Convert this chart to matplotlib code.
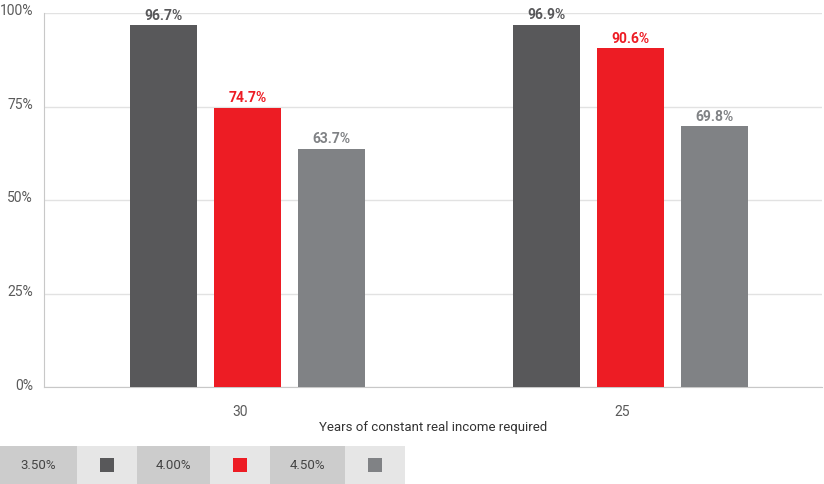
import matplotlib
matplotlib.use("Agg")
import matplotlib.pyplot as plt
from matplotlib.patches import Rectangle
from matplotlib.transforms import ScaledTranslation
import numpy as np

plt.rcParams['font.family'] = ['Roboto', 'DejaVu Sans']

categories = ["30", "25"]
series_names = ["3.50%", "4.00%", "4.50%"]
values = {
    "3.50%": [96.7, 96.9],
    "4.00%": [74.7, 90.6],
    "4.50%": [63.7, 69.8],
}
colors = ["#58585a", "#ed1c24", "#808285"]
yticks = [0, 25, 50, 75, 100]
ytick_labels = ["0%", "25%", "50%", "75%", "100%"]
xlabel = "Years of constant real income required"

W, H = 824, 485
fig = plt.figure(figsize=(W / 100, H / 100), dpi=100)
ax = fig.add_axes([44 / W, 1 - 388 / H, (822 - 44) / W, (388 - 14) / H])

x = np.arange(len(categories))
bw = 0.175
step = 0.2196
for i, name in enumerate(series_names):
    pos = x + (i - 1) * step
    ax.bar(pos, values[name], width=bw, color=colors[i], zorder=3)
    for xp, v in zip(pos, values[name]):
        ax.text(xp, v + 0.9, f"{v:.1f}%", ha="center", va="bottom",
                fontsize=10, fontweight="bold", color=colors[i], zorder=4)

ax.set_xlim(-0.533, 1.501)
ax.set_ylim(0, 100)
ax.set_yticks(yticks)
ax.set_yticklabels(ytick_labels)
ax.set_xticks(x)
ax.set_xticklabels(categories)
ax.tick_params(axis="both", length=0, labelsize=10, labelcolor="#5a5a5a")
ax.tick_params(axis="y", pad=8)
ax.tick_params(axis="x", pad=12)
ax.yaxis.grid(True, color="#e2e2e2", linewidth=1, zorder=0)
ax.set_axisbelow(True)
for s in ["top", "right"]:
    ax.spines[s].set_visible(False)
ax.spines["left"].set_color("#c8c8c8")
ax.spines["bottom"].set_color("#c8c8c8")
ax.set_xlabel(xlabel, fontsize=9.5, color="#333333", labelpad=2)

for lab in ax.get_yticklabels():
    lab.set_transform(lab.get_transform() + ScaledTranslation(0, 4 / 100, fig.dpi_scale_trans))
for lab in ax.get_xticklabels():
    lab.set_transform(lab.get_transform() + ScaledTranslation(-8 / 100, 0, fig.dpi_scale_trans))

# legend table at the bottom
cells = [(0, 77), (77, 137), (137, 210), (210, 270), (270, 345), (345, 405)]
y0, y1 = 447, 485
for j, (a, b) in enumerate(cells):
    fc = "#cccccc" if j % 2 == 0 else "#e6e6e6"
    fig.patches.append(Rectangle((a / W, 1 - y1 / H), (b - a) / W, (y1 - y0) / H,
                                 transform=fig.transFigure, facecolor=fc,
                                 edgecolor="none"))
    k = j // 2
    cx = (a + b) / 2 / W
    cy = 1 - (y0 + y1) / 2 / H
    if j % 2 == 0:
        fig.text(cx, cy, series_names[k], ha="center", va="center",
                 fontsize=9.5, color="#444444")
    else:
        s = 14
        fig.patches.append(Rectangle(((a + b) / 2 / W - s / 2 / W, cy - s / 2 / H),
                                     s / W, s / H, transform=fig.transFigure,
                                     facecolor=colors[k], edgecolor="none"))

fig.savefig("out.png", dpi=100)
